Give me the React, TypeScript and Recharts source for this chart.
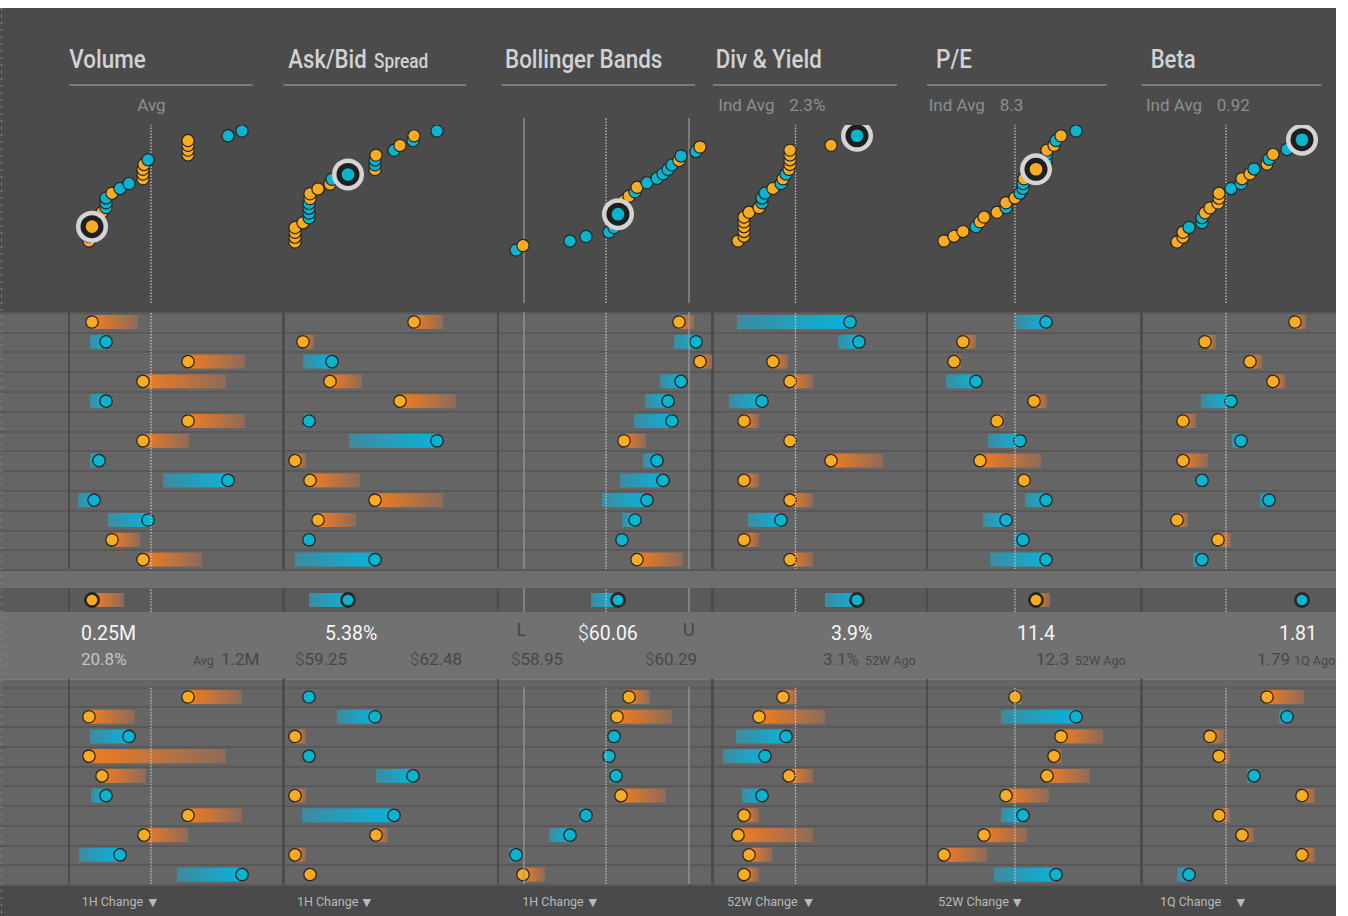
import React from 'react';
import { ScatterChart, Scatter, BarChart, Bar, XAxis, YAxis, ReferenceLine } from 'recharts';

// ---------------- DATA ----------------
// Every metric column uses its own 0 – 214.5 position scale (left edge of column = 0).
// "Now" = current value (dot), "Prev" = value at the start of the change window (bar end).

const metricTitles = ['Volume', 'Ask/Bid', 'Bollinger Bands', 'Div & Yield', 'P/E', 'Beta'];
const footerLabels = ['1H Change', '1H Change', '1H Change', '52W Change', '52W Change', '1Q Change'];

// Volume
const volumeNow1 = [23, 37, 119, 74, 37, 119, 74, 30, 159, 25, 79, 43, 74];
const volumePrev1 = [69, 21, 176, 157, 21, 176, 120, 21, 94, 9, 39, 71, 133];
const volumeNowSel = 23;
const volumePrevSel = 55;
const volumeNow2 = [119, 20, 60, 20, 33, 37, 119, 75, 51, 173];
const volumePrev2 = [173, 66, 21, 157, 77, 22, 173, 119, 10, 108];

// Ask/Bid spread
const spreadNow1 = [130, 19, 48, 46, 116, 25, 153, 11, 26, 91, 34, 25, 91];
const spreadPrev1 = [159, 30, 19, 78, 172, 20, 65, 22, 76, 159, 72, 21, 11];
const spreadNowSel = 64;
const spreadPrevSel = 25;
const spreadNow2 = [25, 91, 11, 25, 129, 11, 110, 92, 11, 26];
const spreadPrev2 = [22, 53, 22, 22, 92, 22, 18, 104, 22, 29];

// Bollinger bands
const bollNow1 = [181, 198, 202, 183, 170, 174, 126, 159, 165, 149, 137, 124, 139];
const bollPrev1 = [196, 176, 214, 162, 147, 136, 148, 145, 122, 104, 124, 122, 185];
const bollNowSel = 120;
const bollPrevSel = 93;
const bollNow2 = [131, 119, 116, 111, 118, 123, 88, 72, 18, 25];
const bollPrev2 = [152, 174, 114, 106, 111, 168, 81, 51, 11, 47];

// Div & Yield
const divNow1 = [137, 146, 60, 77, 49, 31, 77, 118, 31, 77, 68, 31, 77];
const divPrev1 = [24, 125, 75, 100, 16, 46, 79, 170, 46, 100, 35, 46, 100];
const divNowSel = 144;
const divPrevSel = 112;
const divNow2 = [70, 46, 73, 52, 76, 49, 31, 25, 36, 31];
const divPrev2 = [84, 112, 23, 10, 100, 29, 46, 100, 59, 46];

// P/E
const peNow1 = [119, 36, 27, 49, 107, 70, 93, 53, 97, 119, 79, 96, 119];
const pePrev1 = [89, 49, 34, 19, 120, 77, 61, 114, 103, 98, 56, 87, 63];
const peNowSel = 109;
const pePrevSel = 123;
const peNow2 = [88, 149, 134, 127, 120, 79, 96, 57, 17, 129];
const pePrev2 = [95, 74, 176, 135, 163, 122, 74, 100, 60, 67];

// Beta
const betaNow1 = [153, 63, 108, 131, 89, 41, 99, 41, 60, 127, 35, 76, 60];
const betaPrev1 = [164, 74, 120, 143, 59, 54, 90, 66, 58, 118, 46, 89, 51];
const betaNowSel = 160;
const betaPrevSel = 158;
const betaNow2 = [125, 145, 68, 77, 112, 160, 77, 100, 160, 47];
const betaPrev2 = [162, 137, 82, 88, 105, 173, 88, 112, 173, 35];

// reference lines (same scale)
const avgLines = [82, null, 108, 82.5, 88, 84];
const bollBandLines = [26, 191];

// ---------------- LAYOUT / STYLE ----------------
const COL_LEFT = [69, 283.5, 498, 712.5, 927, 1141.5];
const COL_W = 214.5;
const W = 1336;

const ORANGE = '#fbab1f';
const BLUE = '#0ab4cf';
const DOT_STROKE = '#262626';

const TOP_BG = '#4b4b4b';
const ROW_BG = '#656565';
const ROW_LINE = '#585858';
const GAP_BG = '#6e6e6e';
const HL_BG = '#5a5a5a';
const SUM_BG = '#717171';
const FOOT_BG = '#4a4a4a';
const COL_SEP = '#4c4c4c';

const S1_TOP = 311.7;
const ROW_H1 = 19.8;
const S2_TOP = 686.7;
const ROW_H2 = 19.73;
const HL_TOP = 588;
const HL_H = 24;
const SCATTER_BOTTOM = 303;

// per-column layout of the rank plot: [chart top, pixel of lowest rank, pixel of highest rank]
const rankLayout = [
  [125, 241, 131],
  [125, 242, 131],
  [118, 250, 147],
  [125, 241, 131],
  [125, 241, 131],
  [125, 242, 130],
];

const columns = [
  { now1: volumeNow1, prev1: volumePrev1, nowSel: volumeNowSel, prevSel: volumePrevSel, now2: volumeNow2, prev2: volumePrev2 },
  { now1: spreadNow1, prev1: spreadPrev1, nowSel: spreadNowSel, prevSel: spreadPrevSel, now2: spreadNow2, prev2: spreadPrev2 },
  { now1: bollNow1, prev1: bollPrev1, nowSel: bollNowSel, prevSel: bollPrevSel, now2: bollNow2, prev2: bollPrev2 },
  { now1: divNow1, prev1: divPrev1, nowSel: divNowSel, prevSel: divPrevSel, now2: divNow2, prev2: divPrev2 },
  { now1: peNow1, prev1: pePrev1, nowSel: peNowSel, prevSel: pePrevSel, now2: peNow2, prev2: pePrev2 },
  { now1: betaNow1, prev1: betaPrev1, nowSel: betaNowSel, prevSel: betaPrevSel, now2: betaNow2, prev2: betaPrev2 },
];

function refLines(ci: number) {
  const out: any[] = [];
  if (ci === 2) {
    bollBandLines.forEach((v, k) => out.push(
      <ReferenceLine key={'b' + k} x={v} stroke="#9c9c9c" strokeWidth={1.2} ifOverflow="visible" />
    ));
  }
  const a = avgLines[ci];
  if (a != null) {
    out.push(<ReferenceLine key="avg" x={a} stroke="#c4c4c4" strokeWidth={1.3} strokeDasharray="1.5 1.5" ifOverflow="visible" />);
  }
  return out;
}

function ChangeMark(props: any) {
  const { x, y, width, height, payload, bold } = props;
  if (x == null || payload == null) return null;
  const left = Math.min(x, x + width);
  const w = Math.abs(width);
  const down = payload.now < payload.prev;
  const cx = down ? left : left + w;
  const cy = y + height / 2;
  return (
    <g>
      {w > 0.5 && (
        <rect x={left} y={y} width={w} height={height} fill={down ? 'url(#gradDown)' : 'url(#gradUp)'} />
      )}
      <circle cx={cx} cy={cy} r={bold ? 6.6 : 6.2} fill={down ? ORANGE : BLUE}
        stroke={DOT_STROKE} strokeWidth={bold ? 2.6 : 1.3} />
    </g>
  );
}

function RowChart({ now, prev, height, ci, bold }: any) {
  const data = now.map((v: number, i: number) => ({
    row: 'r' + i,
    now: v,
    prev: prev[i],
    range: [Math.min(v, prev[i]), Math.max(v, prev[i])],
  }));
  return (
    <BarChart layout="vertical" width={COL_W} height={height} data={data}
      margin={{ top: 0, right: 0, bottom: 0, left: 0 }} barCategoryGap={0} style={{ overflow: 'visible' }}>
      <XAxis type="number" domain={[0, COL_W]} hide allowDataOverflow />
      <YAxis type="category" dataKey="row" hide />
      {refLines(ci)}
      <Bar dataKey="range" barSize={14} isAnimationActive={false}
        shape={(p: any) => <ChangeMark {...p} bold={bold} />} />
    </BarChart>
  );
}

function RankChart({ ci }: any) {
  const c = columns[ci];
  const all = [
    ...c.now1.map((v: number, k: number) => ({ v, p: c.prev1[k], sel: false })),
    { v: c.nowSel, p: c.prevSel, sel: true },
    ...c.now2.map((v: number, k: number) => ({ v, p: c.prev2[k], sel: false })),
  ];
  const sorted = [...all].sort((a, b) => a.v - b.v);
  const pts = sorted.map((d, r) => ({ x: d.v, y: r, color: d.v < d.p ? ORANGE : BLUE, sel: d.sel }));
  const n = pts.length;
  const [top, yLow, yHigh] = rankLayout[ci];
  const H = SCATTER_BOTTOM - top;
  const D = ((n - 1) * H) / (yLow - yHigh);
  const d1 = ((yLow - top) * D) / H;
  const d0 = d1 - D;
  const normal = pts.filter((p) => !p.sel);
  const selected = pts.filter((p) => p.sel);
  return (
    <ScatterChart width={COL_W} height={H} margin={{ top: 0, right: 0, bottom: 0, left: 0 }} style={{ overflow: 'visible' }}>
      <XAxis type="number" dataKey="x" domain={[0, COL_W]} hide allowDataOverflow />
      <YAxis type="number" dataKey="y" domain={[d0, d1]} hide allowDataOverflow />
      {refLines(ci)}
      <Scatter data={normal} isAnimationActive={false}
        shape={(p: any) => (
          <circle cx={p.cx} cy={p.cy} r={6.1} fill={p.payload.color} stroke={DOT_STROKE} strokeWidth={1.2} />
        )} />
      <Scatter data={selected} isAnimationActive={false}
        shape={(p: any) => (
          <g>
            <circle cx={p.cx} cy={p.cy} r={16} fill="#d4d4d4" />
            <circle cx={p.cx} cy={p.cy} r={11.5} fill="#1f1f1f" />
            <circle cx={p.cx} cy={p.cy} r={6.3} fill={p.payload.color} />
          </g>
        )} />
    </ScatterChart>
  );
}

function Rows({ top, n, h }: any) {
  const out: any[] = [
    <div key="bg" style={{ position: 'absolute', left: 0, top, width: W, height: n * h, background: ROW_BG }} />,
  ];
  for (let i = 0; i < n; i++) {
    out.push(
      <div key={i} style={{
        position: 'absolute', left: 0, top: top + i * h, width: W, height: 2, background: ROW_LINE,
      }} />
    );
  }
  return <>{out}</>;
}

function Abs({ left, top, width, height, children, style }: any) {
  return <div style={{ position: 'absolute', left, top, width, height, ...style }}>{children}</div>;
}

const TXT_MAIN = '#f6f6f6';
const TXT_DARK = '#474747';
const TXT_LIGHT = '#c4c4c4';
const TXT_SUB = '#8e8e8e';

export default function App() {
  const s1H = 13 * ROW_H1;
  const s2H = 10 * ROW_H2;
  return (
    <div style={{ position: 'absolute', left: 0, top: 0, width: W, height: 916, overflow: 'hidden', fontFamily: 'Roboto, sans-serif' }}>
      <svg width={0} height={0} style={{ position: 'absolute' }}>
        <defs>
          <linearGradient id="gradDown" x1="0" y1="0" x2="1" y2="0">
            <stop offset="0" stopColor="#f27c1f" />
            <stop offset="1" stopColor="#8c6b5b" />
          </linearGradient>
          <linearGradient id="gradUp" x1="0" y1="0" x2="1" y2="0">
            <stop offset="0" stopColor="#3d8b9f" />
            <stop offset="1" stopColor="#0ab2dc" />
          </linearGradient>
        </defs>
      </svg>

      {/* backgrounds */}
      <Abs left={0} top={8} width={W} height={908} style={{ background: ROW_BG }} />
      <Abs left={0} top={8} width={W} height={S1_TOP - 8} style={{ background: TOP_BG }} />
      <Rows top={S1_TOP} n={13} h={ROW_H1} />
      <Abs left={0} top={S1_TOP + s1H} width={W} height={HL_TOP - (S1_TOP + s1H)} style={{ background: GAP_BG, borderTop: `2px solid ${ROW_LINE}`, boxSizing: 'border-box' }} />
      <Abs left={0} top={HL_TOP} width={W} height={HL_H} style={{ background: HL_BG }} />
      <Abs left={0} top={HL_TOP + HL_H} width={W} height={679 - HL_TOP - HL_H} style={{ background: SUM_BG }} />
      <Abs left={0} top={679} width={W} height={S2_TOP - 679} style={{ background: ROW_BG, borderTop: '1px solid #7a7a7a', boxSizing: 'border-box' }} />
      <Rows top={S2_TOP} n={10} h={ROW_H2} />
      <Abs left={0} top={S2_TOP + s2H} width={W} height={916 - S2_TOP - s2H} style={{ background: FOOT_BG, borderTop: `2px solid ${ROW_LINE}`, boxSizing: 'border-box' }} />

      {/* column separators */}
      {COL_LEFT.map((x, i) => (
        <React.Fragment key={'sep' + i}>
          <Abs left={x - 1.2} top={S1_TOP} width={2.6} height={s1H} style={{ background: COL_SEP }} />
          <Abs left={x - 1.2} top={HL_TOP} width={2.6} height={HL_H} style={{ background: COL_SEP }} />
          <Abs left={x - 1.2} top={679} width={2.6} height={S2_TOP + s2H - 679} style={{ background: COL_SEP }} />
        </React.Fragment>
      ))}

      {/* charts */}
      {COL_LEFT.map((x, ci) => {
        const c = columns[ci];
        const top = rankLayout[ci][0];
        return (
          <React.Fragment key={'col' + ci}>
            <Abs left={x} top={top} width={COL_W} height={SCATTER_BOTTOM - top}>
              <RankChart ci={ci} />
            </Abs>
            <Abs left={x} top={S1_TOP} width={COL_W} height={s1H}>
              <RowChart now={c.now1} prev={c.prev1} height={s1H} ci={ci} />
            </Abs>
            <Abs left={x} top={HL_TOP} width={COL_W} height={HL_H}>
              <RowChart now={[c.nowSel]} prev={[c.prevSel]} height={HL_H} ci={ci} bold />
            </Abs>
            <Abs left={x} top={S2_TOP} width={COL_W} height={s2H}>
              <RowChart now={c.now2} prev={c.prev2} height={s2H} ci={ci} />
            </Abs>
          </React.Fragment>
        );
      })}

      {/* text overlay */}
      <svg width={W} height={916} style={{ position: 'absolute', left: 0, top: 0, pointerEvents: 'none' }}
        fontFamily="Roboto, sans-serif">
        <line x1={1.5} y1={8} x2={1.5} y2={916} stroke="#8a8a8a" strokeWidth={1} strokeDasharray="2 5" />

        {/* titles */}
        <g fill="#d2d2d2" fontSize={25} fontWeight={500}>
          <text x={69.3} y={68} textLength={76.4} lengthAdjust="spacingAndGlyphs">{metricTitles[0]}</text>
          <text x={288.3} y={68} textLength={78.4} lengthAdjust="spacingAndGlyphs">{metricTitles[1]}</text>
          <text x={374} y={68} fontSize={20} textLength={54.3} lengthAdjust="spacingAndGlyphs">Spread</text>
          <text x={505} y={68} textLength={157.3} lengthAdjust="spacingAndGlyphs">{metricTitles[2]}</text>
          <text x={715.7} y={68} textLength={106} lengthAdjust="spacingAndGlyphs">{metricTitles[3]}</text>
          <text x={936} y={68} textLength={36} lengthAdjust="spacingAndGlyphs">{metricTitles[4]}</text>
          <text x={1150.7} y={68} textLength={45} lengthAdjust="spacingAndGlyphs">{metricTitles[5]}</text>
        </g>
        <g stroke="#8a8a8a" strokeWidth={1.6}>
          <line x1={69} x2={252.7} y1={85} y2={85} />
          <line x1={283.5} x2={466} y1={85} y2={85} />
          <line x1={501.7} x2={695} y1={85} y2={85} />
          <line x1={713} x2={897} y1={85} y2={85} />
          <line x1={927} x2={1107} y1={85} y2={85} />
          <line x1={1141.7} x2={1321.7} y1={85} y2={85} />
        </g>
        <g fill={TXT_SUB} fontSize={17}>
          <text x={137.3} y={111}>Avg</text>
          <text x={718.3} y={111}>Ind Avg</text>
          <text x={789.3} y={111}>2.3%</text>
          <text x={928.7} y={111}>Ind Avg</text>
          <text x={999.7} y={111}>8.3</text>
          <text x={1146} y={111}>Ind Avg</text>
          <text x={1216.7} y={111}>0.92</text>
        </g>

        {/* summary */}
        <g fill={TXT_MAIN} fontSize={19.5}>
          <text x={81} y={640}>0.25M</text>
          <text x={325} y={640}>5.38%</text>
          <text x={578} y={640}><tspan fontWeight={300}>$</tspan>60.06</text>
          <text x={831} y={640}>3.9%</text>
          <text x={1017} y={640}>11.4</text>
          <text x={1279} y={640}>1.81</text>
        </g>
        <text x={81} y={665} fill={TXT_LIGHT} fontSize={17}>20.8%</text>
        <g fill={TXT_DARK} fontSize={17}>
          <text x={221} y={665}>1.2M</text>
          <text x={295} y={665}><tspan fontWeight={300}>$</tspan>59.25</text>
          <text x={410} y={665}><tspan fontWeight={300}>$</tspan>62.48</text>
          <text x={516.5} y={636} fontSize={18}>L</text>
          <text x={683} y={636} fontSize={18}>U</text>
          <text x={511} y={665}><tspan fontWeight={300}>$</tspan>58.95</text>
          <text x={645} y={665}><tspan fontWeight={300}>$</tspan>60.29</text>
          <text x={823} y={665}>3.1%</text>
          <text x={1036} y={665}>12.3</text>
          <text x={1257} y={665}>1.79</text>
        </g>
        <g fill={TXT_DARK} fontSize={12.5}>
          <text x={193} y={665}>Avg</text>
          <text x={865} y={665}>52W Ago</text>
          <text x={1075} y={665}>52W Ago</text>
          <text x={1294} y={665}>1Q Ago</text>
        </g>

        {/* footer */}
        <g fill="#b9b9b9" fontSize={12.5}>
          <text x={81.7} y={906}>{footerLabels[0]}</text>
          <text x={296.9} y={906}>{footerLabels[1]}</text>
          <text x={522.3} y={906}>{footerLabels[2]}</text>
          <text x={727} y={906}>{footerLabels[3]}</text>
          <text x={938.3} y={906}>{footerLabels[4]}</text>
          <text x={1160} y={906}>{footerLabels[5]}</text>
        </g>
        <g fill="#b9b9b9" fontSize={11} fontFamily="DejaVu Sans, sans-serif">
          <text x={148.5} y={906}>▼</text>
          <text x={362.5} y={906}>▼</text>
          <text x={588.4} y={906}>▼</text>
          <text x={804.3} y={906}>▼</text>
          <text x={1013} y={906}>▼</text>
          <text x={1236.6} y={906}>▼</text>
        </g>
      </svg>
    </div>
  );
}
